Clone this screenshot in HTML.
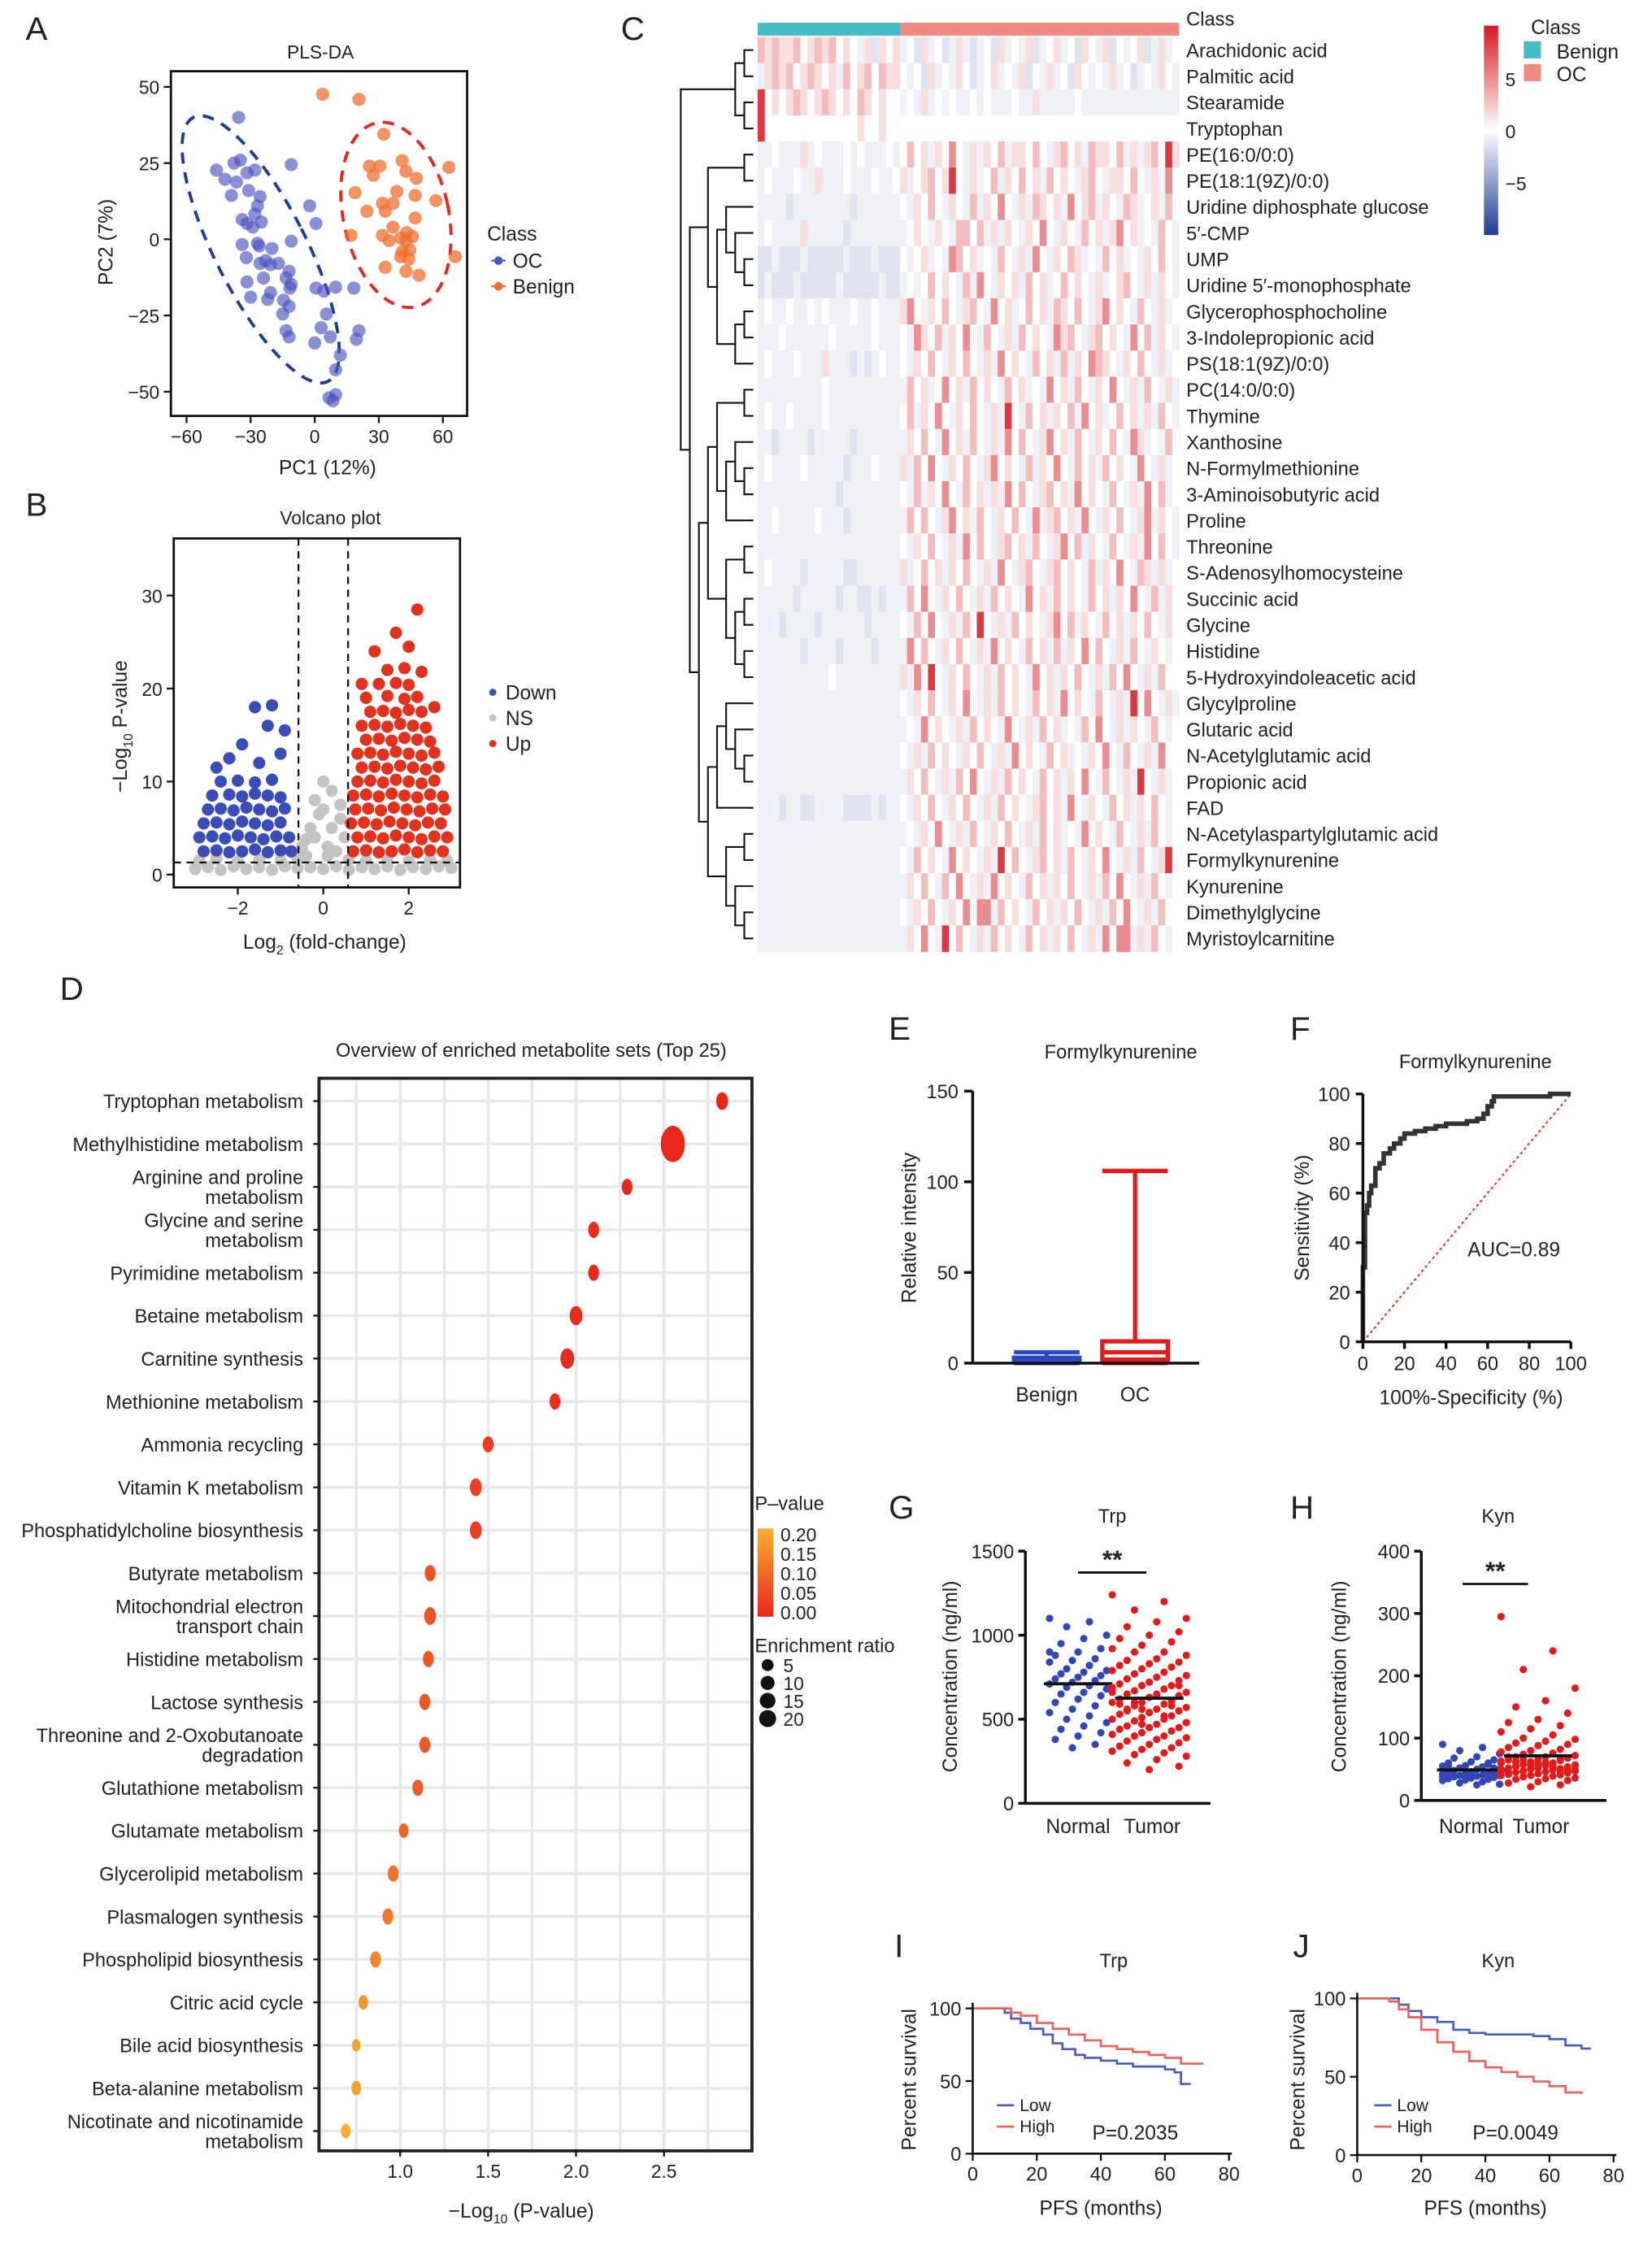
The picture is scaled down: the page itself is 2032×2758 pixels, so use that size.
<!DOCTYPE html>
<html><head><meta charset="utf-8"><title>Metabolomics figure</title>
<style>
html,body{margin:0;padding:0;background:#fff;}
svg{display:block;font-family:"Liberation Sans",Arial,sans-serif;}
</style></head>
<body>
<svg id="fig" xmlns="http://www.w3.org/2000/svg" width="2032" height="2758" viewBox="0 0 1160 1574" preserveAspectRatio="none">
<defs>
<linearGradient id="hmGrad" x1="0" y1="0" x2="0" y2="1">
<stop offset="0" stop-color="#d7191f"/><stop offset="0.5" stop-color="#ffffff"/><stop offset="1" stop-color="#1f3c96"/>
</linearGradient>
<linearGradient id="pGrad" x1="0" y1="0" x2="0" y2="1">
<stop offset="0" stop-color="#f8b032"/><stop offset="1" stop-color="#e8261d"/>
</linearGradient>
</defs>
<rect x="0" y="0" width="1160" height="1574" fill="#fff"/>
</svg>
<script>
// ---------- DATA ----------
const plsOCx=[-35.6,-46,-42,-37.8,-34.8,-36.6,-31.7,-28,-31,-39,-25.6,-26.8,-28,-34,-31.7,-29,-25,-11,-2.4,0.6,-11,-34,-26.8,-20,-32,-25.6,-20.7,-17,-12,-13.4,-11,-24,-31.7,-30,-20.7,-22,-14.6,-11.6,-12,-15,-13.4,-12,0.6,4.3,9.8,18.3,5.5,3,7.3,0,20.7,19.5,12,9.8,6.7,9.8,8.5,-26,-23];
const plsOCy=[40,22.7,19.7,25,26,18.8,21.8,22.7,16,14.4,14,11,8.3,6.5,5.2,4,5.7,24.5,11,5.2,-0.6,-1.7,-1.3,-3,-6,-7.9,-8.3,-7.9,-10.5,-12.7,-14.8,-12.7,-14,-19,-17.5,-19.7,-20,-16,-22,-24.5,-30,-32,-16,-17,-15.7,-16,-24.5,-29,-32,-34,-30,-32.8,-38,-42.8,-52,-51,-53,-2.2,-7];
const plsBenx=[3.7,20.7,32.3,25.6,30.5,27.4,40.9,42.7,47.6,62.8,18.9,38.4,47,31.7,36.6,33,24.4,56.7,47,36.6,17,31.7,34.8,40.2,43,45.7,42.7,41,44.5,40.2,44,65.8,33,42.7,48.8];
const plsBeny=[47.6,45.9,34.5,24,24,21,25.8,22.3,20,23.6,15.3,15.7,14.4,11.8,11.8,9.2,9.2,12.7,7,4,1.3,1.3,-0.4,0.4,2.2,0.9,-0.4,-4,-3.5,-5.7,-6.5,-5.7,-9.2,-10.5,-11.8];
const plsTicksX=[-60,-30,0,30,60];
const plsTicksY=[50,25,0,-25,-50];

const volUp=[0.7,2.5,1.0,2.6,1.3,2.4,1.6,2.5,1.9,2.7,2.2,2.4,2.5,2.6,2.8,2.5,
0.8,4,1.1,4.1,1.4,3.9,1.7,4.2,2.0,4,2.3,3.8,2.6,4.1,2.9,4,
0.65,5.5,0.95,5.6,1.25,5.4,1.55,5.7,1.85,5.5,2.15,5.3,2.45,5.6,2.75,5.5,
0.75,7,1.05,7.1,1.35,6.9,1.65,7.2,1.95,7,2.25,6.8,2.55,7.1,2.85,7,
0.7,8.5,1.0,8.6,1.3,8.4,1.6,8.7,1.9,8.5,2.2,8.3,2.5,8.6,2.8,8.4,
0.8,10,1.1,10.1,1.4,9.9,1.7,10.2,2.0,10,2.3,9.8,2.6,10.1,
0.9,11.5,1.2,11.6,1.5,11.4,1.8,11.7,2.1,11.5,2.4,11.3,2.7,11.6,
0.8,13,1.1,13.1,1.4,12.9,1.7,13.2,2.0,13,2.3,12.8,2.6,13.1,
1.0,14.5,1.3,14.6,1.6,14.4,1.9,14.7,2.2,14.5,2.5,14.3,
0.9,16,1.2,16.1,1.5,15.9,1.8,16.2,2.1,16,2.4,15.8,
1.1,17.5,1.4,17.6,1.7,17.4,2.0,17.7,2.3,17.5,
1.0,19,1.5,19.2,1.9,18.9,2.2,19.1,1.3,20.5,1.7,20.6,2.0,20.4,
1.5,22,1.9,22.2,2.3,21.8,1.2,24,2.0,24.5,1.7,26,2.2,28.5,0.9,20.5,2.6,18];
const volDown=[-2.8,2.5,-2.5,2.6,-2.2,2.4,-1.9,2.5,-1.6,2.7,-1.3,2.4,-1.0,2.6,-0.75,2.5,
-2.9,4,-2.6,4.1,-2.3,3.9,-2.0,4.2,-1.7,4,-1.4,3.8,-1.1,4.1,-0.8,4,
-2.8,5.5,-2.5,5.6,-2.2,5.4,-1.9,5.7,-1.6,5.5,-1.3,5.3,-1.0,5.6,
-2.7,7,-2.4,7.1,-2.1,6.9,-1.8,7.2,-1.5,7,-1.2,6.8,-0.9,7.1,
-2.6,8.5,-2.2,8.6,-1.9,8.4,-1.6,8.7,-1.3,8.5,-1.0,8.3,
-2.4,10,-2.0,10.1,-1.6,9.9,-1.2,10.2,
-2.5,11.5,-1.5,12,-1.0,13,-1.9,14,-1.3,16,-1.6,18,-1.2,18.2,-0.9,15.5,-2.2,12.5];
const volNS=[-3,0.6,-2.7,0.8,-2.4,0.5,-2.1,0.9,-1.8,0.6,-1.5,0.8,-1.2,0.5,-0.9,0.9,-0.6,0.7,-0.3,0.8,0,0.6,0.3,0.9,0.6,0.5,0.9,0.8,1.2,0.6,1.5,0.9,1.8,0.5,2.1,0.8,2.4,0.6,2.7,0.9,3,0.7,
-2.9,1.5,-2.5,1.7,-2.0,1.4,-1.5,1.6,-1.0,1.5,-0.6,1.8,0.6,1.6,1.0,1.5,1.5,1.7,2.0,1.4,2.5,1.6,2.9,1.5,
-0.5,3,-0.3,5,0,7,0.2,9,0.4,6,-0.2,4,0.5,4,0.1,3,0.3,2.5,-0.4,2,0,10,-0.1,6.5,0.2,5,-0.4,3.8,0.4,7.5,-0.2,8,0.1,2];
const volTicksX=[-2,0,2];
const volTicksY=[0,10,20,30];

const hmLabels=["Arachidonic acid","Palmitic acid","Stearamide","Tryptophan","PE(16:0/0:0)","PE(18:1(9Z)/0:0)","Uridine diphosphate glucose","5′-CMP","UMP","Uridine 5′-monophosphate","Glycerophosphocholine","3-Indolepropionic acid","PS(18:1(9Z)/0:0)","PC(14:0/0:0)","Thymine","Xanthosine","N-Formylmethionine","3-Aminoisobutyric acid","Proline","Threonine","S-Adenosylhomocysteine","Succinic acid","Glycine","Histidine","5-Hydroxyindoleacetic acid","Glycylproline","Glutaric acid","N-Acetylglutamic acid","Propionic acid","FAD","N-Acetylaspartylglutamic acid","Formylkynurenine","Kynurenine","Dimethylglycine","Myristoylcarnitine"];
const hmRows=[
"21211201212010b1a101b0a1b0ab1bab0a1b0b1ab01b0a10b1a0b01ab1b0",
"b1212012101b201202110b0a1b0b10ab01b0b1a0b1b0a10b0b1b0ab0b10b",
"40101210121010210100b0b1b0b0bb0b0bbb0bb1bbbbb0bbbbbbbbbbbbbb",
"400000000000001001000000000000000000000000000000000000000000",
"bb0bbb1b0bbb0b0bbb0b0201b1030b1b102b11020b1201b21102b1b12041",
"b0bbb0bb1bbb0bbb0bb01b0120140b1b02b10201b2010b120b11020b1b30",
"bbbbabbbbbbbbabbbbbb0b1020b10b2b1030b1b2101b3012b10b21b01b20",
"b0bbbb1bbbbbabbbbbbbb010b10b2202b1b10b1030b10b201b1301b0b20b",
"aabaaabaaaaabaaabaaa0b01b0b3201b0b20b1b30b1021b0b201b0b1020b",
"abaaabaaaaabaaaaabaab0b02010b2b30b101b201b02010b1b0120b1b10b",
"b0bb0bb0b0bbb0bb0bbb130b1020b120b301b0201b21020b13010b20b1b0",
"bbb0bbbbbb0bbbbb0bbb0b3102b1030b20b1b2010b3120b12010b302b10b",
"b0bbb0bbb1bbbabab0bb0b1020b1020b1b3010b201b2b103210b1020b1b0",
"bbbbbbbbb0bbbbbbbbbbb201b0301b2010b201b0b301b20b1030b1b20b1b",
"b0bb0bbbb0bbbbbbbbbb02b1030b1020b1b40b201b102b301b0201b1b20b",
"bbabbbbabbbbbabbbbbbb1020b301b20b1b3020b1301b20b1020b31b0b20",
"b0bbbb0bbbbbabbb0bbb1b2030b1020b13010b2b1030b201b2010b30b1b0",
"bbbbbbbbbbbabbbbbbbb0b2b1030b201b1b3020b1201b3010b20b1b302b0",
"bb0bbbbb0bbbabbbbbbbb2020b1301b20b1020b3b1201b30b1020b13b10b",
"bbbbbbbbbbbbbbbbbbbb0b1020b1b3020b1201b20b1302b10b20b1b3020b",
"b0bbbbabbbbbaabbbbbb1b0201b1020b1b30b120b12010b2b1030b21b1b0",
"bbbbbabbbbbabbaababbb2030b1020b1b2010b301b2010b201b1030b2b10",
"bbbabbbbabbbbbbabbbb0b2030b1b2040b1b2010b1302b10b201b1020b10",
"bbbbbbabbbbabbbbabbbb3020b1020b1b3010b201b2b103020b1b20b10b0",
"bbbbbbbbbb0bbbbbbbbb1b3040b1020b1b2010b301b1020b1b2030b1b200",
"bbbbbbbbbbbbbbbbbbbb0b1020b1030b1b2010b201b3010b20b1b4030b1b",
"bbbbbbbbbbbbbbbbbbbbb0b3010b1b2010b30b1b201b0b2030b1b10b20b0",
"bbbbbbbbbbbbbbbbbbbb0b1b2010b1020b1b3010b201b0b1030b20b1b300",
"bbbbbbbbbbbbbbbbbbbbb1020b1b2030b1b2010b201b1030b20b1b40b1b0",
"bbbabbaabbbbaaaababb0b1020b1020b1b2010b1201b30b10b201b1020b0",
"bbbbbbbbbbbbbbbbbbbbb0b1030b1b20b1020b1b201b0b3010b20b1b20b0",
"bbbbbbbbbbbbbbbbbbbb0b2010b3010b1b4020b1201b20b1030b1b20b140",
"bbbbbbbbbbbbbbbbbbbbb1020b2030b1b3010b201b1020b1b2030b1b20b0",
"bbbbbbbbbbbbbbbbbbbb0b1020b103033b2010b201b1020b1b2030b1b200",
"bbbbbbbbbbbbbbbbbbbbb1030b4020b1b2010b201b1020b1b3033b1b20b0"];
const hmCodes={a:-1.0,b:-0.5,"0":0,"1":1,"2":2,"3":3.5,"4":6};
const hmTree=[[[0,1],[2,3]],[[[4,5],[[6,[7,[8,9]]],[[10,11],12]]],[[[[13,14],[[15,[16,17]],18]],[[19,20],[[21,22],[23,24]]]],[[[25,[26,[27,28]]],29],[[30,31],[32,[33,34]]]]]]];
const hmBarTicks=[5,0,-5];

const msetNames=["Tryptophan metabolism","Methylhistidine metabolism","Arginine and proline|metabolism","Glycine and serine|metabolism","Pyrimidine metabolism","Betaine metabolism","Carnitine synthesis","Methionine metabolism","Ammonia recycling","Vitamin K metabolism","Phosphatidylcholine biosynthesis","Butyrate metabolism","Mitochondrial electron|transport chain","Histidine metabolism","Lactose synthesis","Threonine and 2-Oxobutanoate|degradation","Glutathione metabolism","Glutamate metabolism","Glycerolipid metabolism","Plasmalogen synthesis","Phospholipid biosynthesis","Citric acid cycle","Bile acid biosynthesis","Beta-alanine metabolism","Nicotinate and nicotinamide|metabolism"];
const msetLogP=[2.83,2.55,2.29,2.1,2.1,2.0,1.95,1.88,1.5,1.43,1.43,1.17,1.17,1.16,1.14,1.14,1.1,1.02,0.96,0.93,0.86,0.79,0.75,0.75,0.69];
const msetRatio=[6,25,5,5,5,7,8,5,5,6,6,5,6,5,5,5,5,4,5,5,5,4,3,4,4];
const msetTicks=[1.0,1.5,2.0,2.5];
const msetGrid=[0.75,1.0,1.25,1.5,1.75,2.0,2.25,2.5,2.75];
const pLegendTicks=["0.20","0.15","0.10","0.05","0.00"];
const ratioLegend=[5,10,15,20];

const boxGroups=["Benign","OC"];
const boxStats=[[0,1,2,3,6],[0,2,6,12,106]];
const boxTicks=[0,50,100,150];

const rocFpr=[0,0,1,1,2,3,4,6,6,8,10,13,15,18,20,25,30,35,40,45,50,55,58,60,62,63,70,80,90,100];
const rocTpr=[0,30,45,52,55,60,63,65,70,72,76,78,80,82,84,85,86,87,88,88,89,90,92,95,97,99,99,99,100,100];
const rocTicks=[0,20,40,60,80,100];

const trpNormal=[1100,1080,1050,1000,980,950,920,900,880,860,850,840,820,800,790,780,770,760,750,740,730,720,710,700,690,680,660,650,640,620,600,580,560,540,520,500,480,460,440,420,400,380,350,330,900,820];
const trpTumor=[1240,1200,1150,1100,1080,1050,1020,1000,980,960,940,920,900,900,880,860,850,840,830,820,810,800,790,780,770,760,750,740,730,720,710,700,700,690,680,670,660,650,650,640,630,620,610,600,600,590,580,570,560,550,550,540,530,520,510,500,500,490,480,470,460,450,450,440,430,420,410,400,400,390,380,370,360,350,340,330,320,310,300,290,280,260,240,220,200,620,580,560,680,520,600,480,640,560,700,540,590,610,470,660];
const trpTicks=[0,500,1000,1500];
const kynNormal=[90,85,80,75,70,68,65,62,60,58,56,55,54,52,50,50,48,47,46,45,44,43,42,41,40,40,39,38,37,36,35,34,33,32,30,28,26,25,48,52,45,55,60,42,38];
const kynTumor=[295,240,210,180,160,150,140,130,125,120,115,110,105,100,98,95,92,90,88,85,82,80,78,76,74,72,70,70,68,66,65,64,62,60,60,58,57,56,55,54,53,52,51,50,50,49,48,47,46,45,44,43,42,41,40,40,39,38,36,35,34,32,30,28,25,22,60,55,65,50,58,62,48,52,70,45,57,63,53,47,56,61,54,49,59,44,66,51,46,58];
const kynTicks=[0,100,200,300,400];

const kmTrpLowT=[0,8,10,12,15,18,22,25,28,32,35,40,45,50,55,60,63,65,68];
const kmTrpLowS=[100,100,97,93,90,86,82,76,72,68,66,64,62,60,60,58,56,48,48];
const kmTrpHighT=[0,10,12,15,20,25,30,35,40,45,50,55,60,65,70,72];
const kmTrpHighS=[100,100,97,95,90,86,82,78,74,72,70,68,66,62,62,62];
const kmKynLowT=[0,10,13,16,20,25,30,35,40,50,55,60,65,70,73];
const kmKynLowS=[100,100,96,92,88,85,80,78,77,77,76,74,70,68,68];
const kmKynHighT=[0,10,13,16,20,25,30,35,40,45,50,55,60,65,70];
const kmKynHighS=[100,98,93,88,80,72,66,60,56,53,50,47,44,40,39];
const kmTicksX=[0,20,40,60,80];
const kmTicksY=[0,50,100];

// ---------- HELPERS ----------
const NS='http://www.w3.org/2000/svg';
const svg=document.getElementById('fig');
function mk(tag,attrs,parent){const e=document.createElementNS(NS,tag);for(const k in attrs)e.setAttribute(k,attrs[k]);(parent||svg).appendChild(e);return e;}
function grp(name){const g=mk('g',{});return g;}
function txt(p,x,y,s,name,opts){const e=mk('text',Object.assign({x:x,y:y,'font-size':13,fill:'#222'},opts||{}),p);e.textContent=s;


return e;}
function line(p,x1,y1,x2,y2,opts){return mk('line',Object.assign({x1:x1,y1:y1,x2:x2,y2:y2,stroke:'#111','stroke-width':1.3},opts||{}),p);}
function letter(s,x,y){txt(svg,x,y,s,'panel-label-'+s.toLowerCase(),{'font-size':23});}

// ---------- PANEL A ----------
(function(){
const g=grp('panel-a-plsda');
letter('A',18,28);
const xA=v=>221+v*1.5, yA=v=>168-v*2.14;
txt(g,225,41,'PLS-DA','plsda-title',{'text-anchor':'middle'});
mk('ellipse',{cx:xA(-25.3),cy:yA(-3.3),rx:32,ry:104,transform:`rotate(-27 ${xA(-25.3)} ${yA(-3.3)})`,fill:'none',stroke:'#1f3c96','stroke-width':2.2,'stroke-dasharray':'8 6'},g);
mk('ellipse',{cx:xA(38),cy:yA(8),rx:37,ry:66,transform:`rotate(-12 ${xA(38)} ${yA(8)})`,fill:'none',stroke:'#e8261d','stroke-width':2.2,'stroke-dasharray':'8 6'},g);
for(let i=0;i<plsOCx.length;i++){const c=mk('circle',{cx:xA(plsOCx[i]),cy:yA(plsOCy[i]),r:4.6,fill:'rgba(75,85,190,0.65)'},g);

}
for(let i=0;i<plsBenx.length;i++){const c=mk('circle',{cx:xA(plsBenx[i]),cy:yA(plsBeny[i]),r:4.6,fill:'rgba(240,110,45,0.75)'},g);

}
mk('rect',{x:120,y:50,width:208,height:242,fill:'none',stroke:'#111','stroke-width':1.6},g);
plsTicksX.forEach(v=>{line(g,xA(v),292,xA(v),297);txt(g,xA(v),311,String(v).replace('-','−'),'plsda-x-tick',{'text-anchor':'middle'});});
plsTicksY.forEach(v=>{line(g,115,yA(v),120,yA(v));txt(g,112,yA(v)+5,String(v).replace('-','−'),'plsda-y-tick',{'text-anchor':'end'});});
txt(g,230,333,'PC1 (12%)','plsda-x-title',{'text-anchor':'middle','font-size':14});
txt(g,0,0,'PC2 (7%)','plsda-y-title',{'text-anchor':'middle','font-size':14,transform:'translate(79,170) rotate(-90)'});
txt(g,342,169,'Class','plsda-legend-title',{'font-size':14});
mk('circle',{cx:350,cy:183,r:3,fill:'#4b55be'},g);line(g,345,183,355,183,{stroke:'#4b55be'});
txt(g,360,188,'OC','legend-oc',{'font-size':14});
mk('circle',{cx:350,cy:201,r:3,fill:'#f06e2d'},g);line(g,345,201,355,201,{stroke:'#f06e2d'});
txt(g,360,206,'Benign','legend-benign',{'font-size':14});
})();

// ---------- PANEL B ----------
(function(){
const g=grp('panel-b-volcano');
letter('B',18,362);
const xB=v=>227+v*30, yB=v=>614-v*6.53;
txt(g,232,368,'Volcano plot','volcano-title',{'text-anchor':'middle'});
function pts(arr,col,name){for(let i=0;i<arr.length;i+=2){const c=mk('circle',{cx:xB(arr[i]),cy:yB(arr[i+1]),r:4.3,fill:col},g);

}}
pts(volNS,'#c4c4c4','ns-point');
pts(volDown,'#3a4cb8','down-point');
pts(volUp,'#e2311c','up-point');
line(g,xB(-0.58),378,xB(-0.58),623,{'stroke-dasharray':'5 4'});
line(g,xB(0.58),378,xB(0.58),623,{'stroke-dasharray':'5 4'});
line(g,122,yB(1.3),323,yB(1.3),{'stroke-dasharray':'5 4'});
mk('rect',{x:122,y:378,width:201,height:245,fill:'none',stroke:'#111','stroke-width':1.6},g);
volTicksX.forEach(v=>{line(g,xB(v),623,xB(v),628);txt(g,xB(v),642,String(v).replace('-','−'),'volcano-x-tick',{'text-anchor':'middle'});});
volTicksY.forEach(v=>{line(g,117,yB(v),122,yB(v));txt(g,114,yB(v)+5,String(v),'volcano-y-tick',{'text-anchor':'end'});});
const xl=txt(g,228,666,'Log','volcano-x-title',{'text-anchor':'middle','font-size':14});
const s1=mk('tspan',{'font-size':9,dy:4},xl);s1.textContent='2';const s2=mk('tspan',{dy:-4},xl);s2.textContent=' (fold-change)';
const yl=txt(g,0,0,'−Log','volcano-y-title',{'text-anchor':'middle','font-size':14,transform:'translate(89,510) rotate(-90)'});
const t1=mk('tspan',{'font-size':9,dy:4},yl);t1.textContent='10';const t2=mk('tspan',{dy:-4},yl);t2.textContent=' P-value';
[['Down','#3a4cb8',486],['NS','#c4c4c4',504],['Up','#e2311c',522]].forEach(d=>{mk('circle',{cx:346,cy:d[2],r:2.5,fill:d[1]},g);txt(g,355,d[2]+5,d[0],'legend-'+d[0].toLowerCase(),{'font-size':14});});
})();

// ---------- PANEL C ----------
(function(){
const g=grp('panel-c-heatmap');
letter('C',436,28);
const top=26,rh=642/35,bx=532,bw=100,ox=632,ow=196;
function col(v){if(v>=0){const t=Math.min(v/7,1);return `rgb(${255-t*40|0},${255-t*230|0},${255-t*220|0})`;}const t=Math.min(-v/7,1);return `rgb(${255-t*224|0},${255-t*195|0},${255-t*105|0})`;}
hmRows.forEach((s,r)=>{
 const ben=s.slice(0,20),oc=s.slice(20);
 const y=top+r*rh;
 for(let i=0;i<ben.length;i++){const c=mk('rect',{x:bx+i*bw/ben.length,y:y,width:bw/ben.length+0.4,height:rh+0.4,fill:col(hmCodes[ben[i]])},g);
 
 }
 for(let i=0;i<oc.length;i++){const c=mk('rect',{x:ox+i*ow/oc.length,y:y,width:ow/oc.length+0.4,height:rh+0.4,fill:col(hmCodes[oc[i]])},g);
 
 }
 txt(g,833,y+rh/2+5,hmLabels[r],'row-label',{'font-size':13.5});
});
mk('rect',{x:bx,y:16,width:bw,height:9,fill:'#45bcc4'},g);
mk('rect',{x:ox,y:16,width:ow,height:9,fill:'#f08a80'},g);
txt(g,833,18,'Class','class-bar-label',{'font-size':13.5});
// dendrogram
function h(n){return Array.isArray(n)?Math.max(h(n[0]),h(n[1]))+1:0;}
const H=h(hmTree),xs=v=>529-v*(51/H);
const dg=mk('g',{},g);
function draw(n){if(!Array.isArray(n))return {y:top+n*rh+rh/2,x:529};
 const a=draw(n[0]),b=draw(n[1]),x=xs(h(n));
 mk('path',{d:`M${a.x},${a.y}H${x}V${b.y}H${b.x}`,fill:'none',stroke:'#111','stroke-width':1.2},dg);
 return {y:(a.y+b.y)/2,x:x};}
draw(hmTree);
// colour bar
mk('rect',{x:1042,y:18,width:10,height:147,fill:'url(#hmGrad)'},g);
const cy=v=>92-v*7.3;
hmBarTicks.forEach(v=>txt(g,1057,cy(v)+5,String(v).replace('-','−'),'colorbar-tick',{'font-size':13}));
txt(g,1075,24,'Class','class-legend-title',{'font-size':14});
mk('rect',{x:1070,y:29,width:12,height:12,fill:'#45bcc4'},g);
txt(g,1093,41,'Benign','class-legend-benign',{'font-size':14});
mk('rect',{x:1070,y:45,width:12,height:12,fill:'#f08a80'},g);
txt(g,1093,57,'OC','class-legend-oc',{'font-size':14});
})();

// ---------- PANEL D ----------
(function(){
const g=grp('panel-d-enrichment');
letter('D',42,702);
const x0=224,x1=528,y0=757,y1=1510;
const xD=v=>281+(v-1)*123.5, yD=i=>773+i*30.13;
txt(g,373,742,'Overview of enriched metabolite sets (Top 25)','enrichment-title',{'text-anchor':'middle','font-size':13.5});
msetGrid.forEach(v=>line(g,xD(v),y0,xD(v),y1,{stroke:'#e8e8e8','stroke-width':2}));
msetNames.forEach((n,i)=>{line(g,x0,yD(i),x1,yD(i),{stroke:'#e8e8e8','stroke-width':2});
 line(g,x0-4,yD(i),x0,yD(i));
 const parts=n.split('|');
 if(parts.length===1)txt(g,213,yD(i)+5,parts[0],'set-label',{'text-anchor':'end','font-size':13.5});
 else{txt(g,213,yD(i)-2,parts[0],'set-label',{'text-anchor':'end','font-size':13.5});txt(g,213,yD(i)+12,parts[1],'set-label',{'text-anchor':'end','font-size':13.5});}
});
function pcol(p){const t=Math.min(p/0.2,1);return `rgb(${232+t*16|0},${38+t*138|0},${29+t*21|0})`;}
msetLogP.forEach((v,i)=>{const rx=Math.sqrt(msetRatio[i])*1.7;const e=mk('ellipse',{cx:xD(v),cy:yD(i),rx:rx,ry:rx*1.5,fill:pcol(Math.pow(10,-v))},g);

});
mk('rect',{x:x0,y:y0,width:x1-x0,height:y1-y0,fill:'none',stroke:'#222','stroke-width':2.2},g);
msetTicks.forEach(v=>{line(g,xD(v),y1,xD(v),y1+4);txt(g,xD(v),y1+19,v.toFixed(1),'enrichment-x-tick',{'text-anchor':'middle'});});
const xl=txt(g,366,1557,'−Log','enrichment-x-title',{'text-anchor':'middle','font-size':14});
const a=mk('tspan',{'font-size':9,dy:4},xl);a.textContent='10';const b=mk('tspan',{dy:-4},xl);b.textContent=' (P-value)';
txt(g,530,1060,'P–value','p-legend-title',{'font-size':13.5});
mk('rect',{x:532,y:1073,width:11,height:62,fill:'url(#pGrad)'},g);
pLegendTicks.forEach((s,i)=>txt(g,548,1082+i*13.7,s,'p-legend-tick',{'font-size':13}));
txt(g,530,1160,'Enrichment ratio','ratio-legend-title',{'font-size':13.5});
ratioLegend.forEach((v,i)=>{mk('circle',{cx:539,cy:1169+i*12.5,r:2.4+Math.sqrt(v)*0.8,fill:'#111'},g);txt(g,550,1174+i*12.5,String(v),'ratio-legend-entry',{'font-size':13});});
})();

// ---------- PANEL E ----------
(function(){
const g=grp('panel-e-boxplot');
letter('E',624,730);
const yE=v=>957-v*1.273;
txt(g,787,743,'Formylkynurenine','boxplot-title',{'text-anchor':'middle','font-size':13.5});
const cx=[735,797],cols=['#2c47c2','#e21a1a'];
boxStats.forEach((s,i)=>{const c=cols[i],w=46;
 const bg=mk('g',{},g);
 line(bg,cx[i],yE(s[0]),cx[i],yE(s[4]),{stroke:c,'stroke-width':3});
 line(bg,cx[i]-w/2,yE(s[4]),cx[i]+w/2,yE(s[4]),{stroke:c,'stroke-width':3});
 line(bg,cx[i]-w/2,yE(s[0]),cx[i]+w/2,yE(s[0]),{stroke:c,'stroke-width':3});
 mk('rect',{x:cx[i]-w/2,y:yE(s[3]),width:w,height:Math.max(yE(s[1])-yE(s[3]),2),fill:'#fff',stroke:c,'stroke-width':3},bg);
 line(bg,cx[i]-w/2,yE(s[2]),cx[i]+w/2,yE(s[2]),{stroke:c,'stroke-width':3});
 txt(g,cx[i],984,boxGroups[i],'boxplot-x-label',{'text-anchor':'middle','font-size':14});
});
line(g,683,766,683,957,{'stroke-width':2});line(g,683,957,842,957,{'stroke-width':2});
boxTicks.forEach(v=>{line(g,677,yE(v),683,yE(v),{'stroke-width':2});txt(g,673,yE(v)+5,String(v),'boxplot-y-tick',{'text-anchor':'end','font-size':13.5});});
txt(g,0,0,'Relative intensity','boxplot-y-title',{'text-anchor':'middle','font-size':14,transform:'translate(643,862) rotate(-90)'});
})();

// ---------- PANEL F ----------
(function(){
const g=grp('panel-f-roc');
letter('F',906,730);
const xF=v=>957+v*1.46, yF=v=>942-v*1.74;
txt(g,1036,750,'Formylkynurenine','roc-title',{'text-anchor':'middle','font-size':13.5});
line(g,xF(0),yF(0),xF(100),yF(100),{stroke:'#e53a2e','stroke-width':1.2,'stroke-dasharray':'2 2'});
let d=`M${xF(rocFpr[0])},${yF(rocTpr[0])}`;
for(let i=1;i<rocFpr.length;i++)d+=`H${xF(rocFpr[i])}V${yF(rocTpr[i])}`;
const p=mk('path',{d:d,fill:'none',stroke:'#333','stroke-width':3.2},g);


line(g,xF(0),yF(100),xF(0),yF(0),{'stroke-width':2});line(g,xF(0),yF(0),xF(100),yF(0),{'stroke-width':2});
rocTicks.forEach(v=>{line(g,xF(v),942,xF(v),947,{'stroke-width':2});txt(g,xF(v),962,String(v),'roc-x-tick',{'text-anchor':'middle','font-size':13.5});
 line(g,952,yF(v),957,yF(v),{'stroke-width':2});txt(g,948,yF(v)+5,String(v),'roc-y-tick',{'text-anchor':'end','font-size':13.5});});
txt(g,1063,882,'AUC=0.89','auc-label',{'text-anchor':'middle','font-size':14});
txt(g,1033,986,'100%-Specificity (%)','roc-x-title',{'text-anchor':'middle','font-size':14});
txt(g,0,0,'Sensitivity (%)','roc-y-title',{'text-anchor':'middle','font-size':14,transform:'translate(919,855) rotate(-90)'});
})();

// ---------- PANELS G,H ----------
function swarm(name,letterS,lx,title,tx,axisX,yTop,yBot,ticks,ymax,normal,tumor,cN,cT,sig,yt){
 const g=grp(name);
 letter(letterS,lx,1066);
 const yS=v=>yBot-v*(yBot-yTop)/ymax;
 txt(g,tx,1069,title,name+'-title',{'text-anchor':'middle','font-size':13.5});
 [[normal,cN,'#3346b8',20],[tumor,cT,'#e41a1a',26]].forEach(set=>{
  set[0].forEach((v,i)=>{const off=(((i*7)%11)-5)/5*set[3];const c=mk('circle',{cx:set[1]+off,cy:yS(v),r:2.6,fill:set[2]},g);
  
  });
  const m=set[0].reduce((a,b)=>a+b,0)/set[0].length;
  line(g,set[1]-24,yS(m),set[1]+24,yS(m),{'stroke-width':2.2});
 });
 line(g,axisX,yTop,axisX,yBot,{'stroke-width':2});line(g,axisX,yBot,axisX+130,yBot,{'stroke-width':2});
 ticks.forEach(v=>{line(g,axisX-5,yS(v),axisX,yS(v),{'stroke-width':2});txt(g,axisX-8,yS(v)+5,String(v),name+'-y-tick',{'text-anchor':'end','font-size':13.5});});
 txt(g,cN,1287,'Normal','x-label-normal',{'text-anchor':'middle','font-size':14});
 txt(g,cT+2,1287,'Tumor','x-label-tumor',{'text-anchor':'middle','font-size':14});
 line(g,sig[0],sig[2],sig[1],sig[2],{'stroke-width':1.6});
 txt(g,(sig[0]+sig[1])/2,sig[2]-3,'**','significance-marker',{'text-anchor':'middle','font-size':18,'font-weight':'bold'});
 txt(g,0,0,'Concentration (ng/ml)','concentration-y-title',{'text-anchor':'middle','font-size':14,transform:`translate(${yt},1177) rotate(-90)`});
}
swarm('panel-g-trp','G',624,'Trp',781,720,1089,1266,trpTicks,1500,trpNormal,trpTumor,757,807,[757,805,1104],672);
swarm('panel-h-kyn','H',906,'Kyn',1052,998,1089,1264,kynTicks,400,kynNormal,kynTumor,1033,1080,[1027,1073,1112],945);

// ---------- PANELS I,J ----------
function km(name,letterS,lx,title,tx,x0,yT,yB,lowT,lowS,highT,highS,pText,px,legX,ytx){
 const g=grp(name);
 letter(letterS,lx,1374);
 const xK=v=>x0+v*(180/80), yK=v=>yB-v*(yB-yT)/100;
 txt(g,tx,1381,title,name+'-title',{'text-anchor':'middle','font-size':13.5});
 [[lowT,lowS,'#4a5bc4','low'],[highT,highS,'#f0605a','high']].forEach(s=>{
  let d=`M${xK(s[0][0])},${yK(s[1][0])}`;
  for(let i=1;i<s[0].length;i++)d+=`H${xK(s[0][i])}V${yK(s[1][i])}`;
  const p=mk('path',{d:d,fill:'none',stroke:s[2],'stroke-width':1.5},g);
  
  
 });
 line(g,x0,yT-4,x0,yB,{'stroke-width':1.5});line(g,x0,yB,x0+182,yB,{'stroke-width':1.5});
 kmTicksX.forEach(v=>{line(g,xK(v),yB,xK(v),yB+5);txt(g,xK(v),yB+19,String(v),name+'-x-tick',{'text-anchor':'middle','font-size':13.5});});
 kmTicksY.forEach(v=>{line(g,x0-5,yK(v),x0,yK(v));txt(g,x0-8,yK(v)+5,String(v),name+'-y-tick',{'text-anchor':'end','font-size':13.5});});
 line(g,legX,1478,legX+12,1478,{stroke:'#4a5bc4','stroke-width':1.5});txt(g,legX+16,1482,'Low','legend-low',{'font-size':12});
 line(g,legX,1493,legX+12,1493,{stroke:'#f0605a','stroke-width':1.5});txt(g,legX+16,1497,'High','legend-high',{'font-size':12});
 txt(g,px,1502,pText,'p-value-label',{'font-size':14});
 txt(g,x0+90,1555,'PFS (months)','km-x-title',{'text-anchor':'middle','font-size':14});
 txt(g,0,0,'Percent survival','km-y-title',{'text-anchor':'middle','font-size':14,transform:`translate(${ytx},1460) rotate(-90)`});
}
km('panel-i-km-trp','I',628,'Trp',782,683,1410,1512,kmTrpLowT,kmTrpLowS,kmTrpHighT,kmTrpHighS,'P=0.2035',767,700,643);
km('panel-j-km-kyn','J',908,'Kyn',1052,953,1403,1513,kmKynLowT,kmKynLowS,kmKynHighT,kmKynHighS,'P=0.0049',1034,965,916);
</script>
</body></html>
